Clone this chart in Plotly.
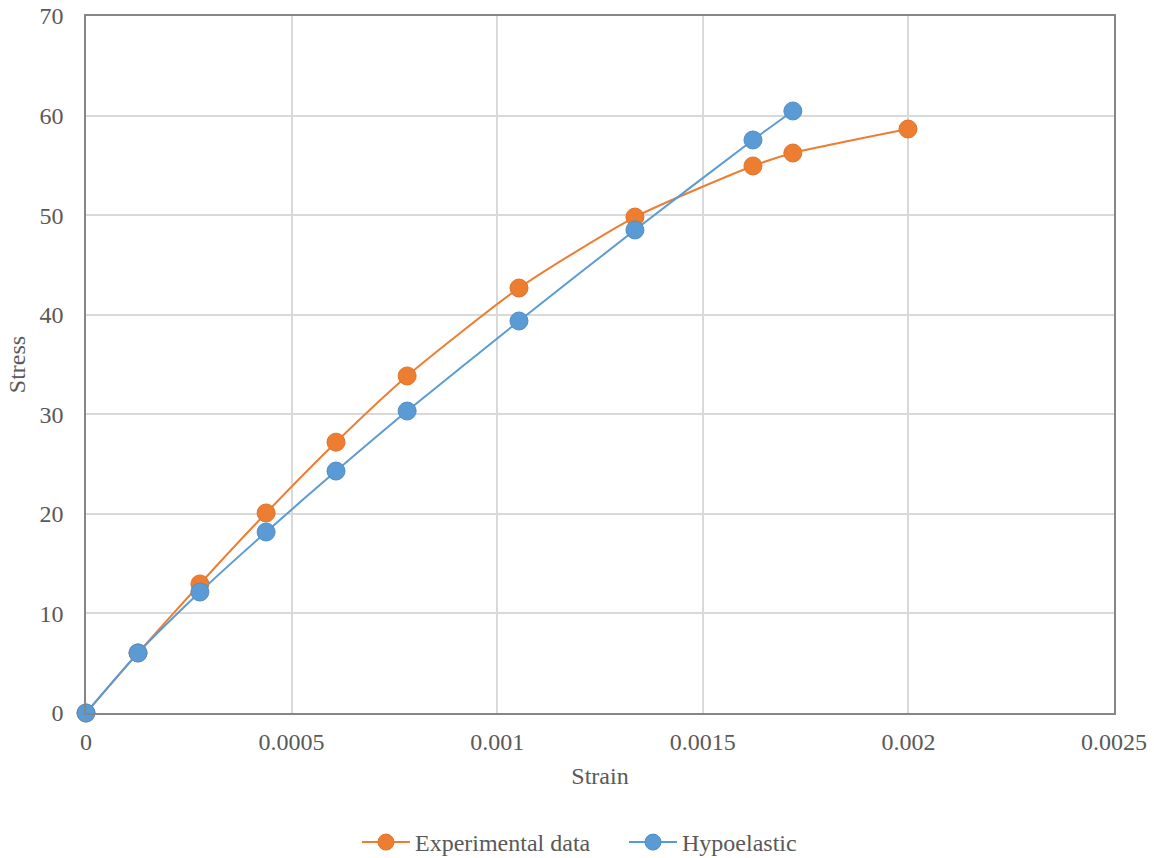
import plotly.graph_objects as go

strain = [0, 0.0001265, 0.000277, 0.000438, 0.000608, 0.000781, 0.001053, 0.001335, 0.001622, 0.001719, 0.001999]
exp_stress = [0, 6.03, 12.96, 20.09, 27.2, 33.85, 42.68, 49.81, 54.94, 56.24, 58.65]
hypo_strain = [0, 0.0001265, 0.000277, 0.000438, 0.000608, 0.000781, 0.001053, 0.001335, 0.001622, 0.001719]
hypo_stress = [0, 6.03, 12.15, 18.18, 24.3, 30.33, 39.37, 48.51, 57.55, 60.46]
x_ticks = [0, 0.0005, 0.001, 0.0015, 0.002, 0.0025]
x_labels = ["0", "0.0005", "0.001", "0.0015", "0.002", "0.0025"]

FS = 24
font = dict(family="Liberation Serif, Times New Roman, serif", size=FS, color="#595959")

fig = go.Figure()
fig.add_trace(go.Scatter(x=strain, y=exp_stress, name="Experimental data", mode="lines+markers",
                         line=dict(color="#ED7D31", width=2, shape="spline", smoothing=0.6),
                         marker=dict(color="#ED7D31", size=18, line=dict(color="#E0722A", width=1)),
                         cliponaxis=False))
fig.add_trace(go.Scatter(x=hypo_strain, y=hypo_stress, name="Hypoelastic", mode="lines+markers",
                         line=dict(color="#5B9BD5", width=2, shape="spline", smoothing=0.6),
                         marker=dict(color="#5B9BD5", size=18, line=dict(color="#4F8DC8", width=1)),
                         cliponaxis=False))

fig.update_layout(
    width=1154, height=858,
    margin=dict(l=86, r=40, t=16, b=145, autoexpand=False),
    plot_bgcolor="white", paper_bgcolor="white",
    font=font,
    legend=dict(orientation="h", x=0.2636, xanchor="left", y=-0.1535, yanchor="top",
                font=dict(size=FS, color="#595959"), itemwidth=48,
                entrywidth=204, entrywidthmode="pixels"),
    xaxis=dict(range=[0, 0.0025], tickvals=x_ticks, ticktext=x_labels,
               showgrid=True, gridcolor="#D9D9D9", gridwidth=1.5,
               showline=True, linecolor="#868686", linewidth=1.5, mirror=True,
               zeroline=False, ticks="", ticklabelstandoff=6, ticklabeloverflow="allow",
               title=dict(text="Strain", font=dict(size=FS, color="#595959"), standoff=14)),
    yaxis=dict(range=[0, 70], dtick=10,
               showgrid=True, gridcolor="#D9D9D9", gridwidth=1.5,
               showline=True, linecolor="#868686", linewidth=1.5, mirror=True,
               zeroline=False, ticks="", ticklabelstandoff=16, ticklabeloverflow="allow",
               title=dict(text="Stress", font=dict(size=FS, color="#595959"), standoff=7)),
)

fig.write_html("out.html", config={"displayModeBar": False},
               post_script="document.body.style.margin='0';")
